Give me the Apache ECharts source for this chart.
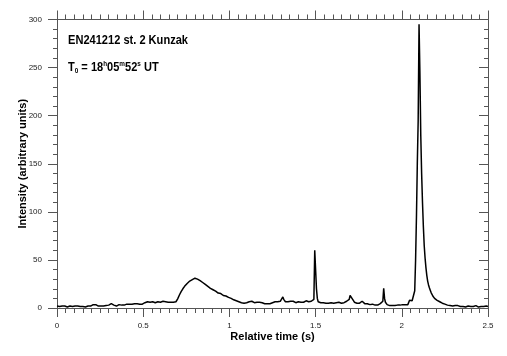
<!DOCTYPE html>
<html>
<head>
<meta charset="utf-8">
<script src="https://cdn.jsdelivr.net/npm/echarts@6/dist/echarts.min.js"></script>
<style>html,body{margin:0;padding:0;background:#fff}#c{width:507px;height:356px}</style>
</head>
<body>
<div id="c"></div>
<script>
// Sampling step of the light curve (s)
const dt = 0.005;
// Intensity (arbitrary units), one value per 0.005 s from 0 to 2.5 s
const intensity = [
 2,1,2,1.5,2.5,1,2,1.5,1,2, 2.5,1.5,1,2,1.5,2,1,2.5,1.5,2,
 1.5,2,1,1.5,2,1,2.5,1.5,2,1, 1.5,2,1.5,1,2,1.5,2,2.5,1.5,2,
 2,2.5,3.5,4,3,3.5,2.5,3,2,2.5, 3,2,2.5,3,2,2.5,3,2.5,3.5,3,
 3,2.5,3.5,4.5,3,4,3,2.5,3,2, 3,2.5,3.5,3,2.5,3,3.5,2.5,3,3.5,
 3,4,3.5,3,4,4.5,5,4,5.5,4, 4.5,5,3.5,4.5,4,3.5,4,3.5,4.5,4,
 5,4.5,5.5,6,5,6.5,5,5.5,6,5, 5.5,6.5,5,6,5.5,6,5,6.5,5.5,6,
 6,5.5,6.5,7,6,5.5,6.5,6,7,6, 5.5,6.5,6,7,6.5,6,7,7.5,6.5,8,
 9.5,11.5,13.5,15,17,18.5,20,21,22.5,23.5, 24.5,25.5,26.5,27,28,28.5,29.5,29.5,30.5,30.5,
 31,30.5,31,30,29.5,29,28.5,28,27,26.5, 25.5,25,24.5,23.5,23,22.5,21.5,21,20.5,20,
 20,19,18.5,18,17.5,16.5,16,15.5,15,14.5, 15,14,13.5,13,12.5,12,12.5,11.5,11,11,
 11,10.5,10,9.5,9,8.5,8,8,7.5,7, 7,6.5,6,6.5,5.5,5,5.5,5,5.5,5,
 5.5,6,5,6.5,6,5.5,7,6,6.5,5.5, 6,7,6,6.5,5.5,6,5,6,5.5,5,
 5,4.5,5,4,4.5,5,4,4.5,5.5,5, 5.5,6,5,6.5,6,7,6.5,7,7.5,7,
 8,9,11.5,9,7.5,6.5,7,6,6.5,5.5, 6,7,6,6.5,7,6,6.5,5.5,6,7,
 6.5,6,7,6,6.5,7,6,7,6.5,7.5, 6,7,6.5,7,8,7,6.5,7,9,60,
 40,20,10,6.5,5,4.5,5.5,5,4.5,5.5, 5,4,5,5.5,4.5,5,6,5,5.5,5,
 5.5,5,6,5,5.5,6.5,5,6,5.5,6, 5,6.5,6,5.5,6.5,6,7,6.5,7.5,9,
 13,15,11,9,7,6,5,4.5,5,5.5, 6,5,6.5,6,7,5.5,5,4.5,5.5,5,
 4.5,5,4,3.5,4.5,3,4,3.5,4,3, 3.5,4,3,4,3.5,4.5,4,5,7,20.5,
 10,6,4,3.5,3,3.5,2.5,3,3.5,2.5, 3,3.5,2.5,3,2.5,3,3.5,2.5,3,3,
 3,3.5,2.5,3,3.5,3,4,3.5,5,8, 7.5,8.5,7.5,8,9,18,50,95,150,195,
 295,245,180,140,110,85,65,52,42,34, 28,24,21,18.5,16,14,12.5,11,10,9,
 8.5,8,7.5,7,6.5,6,5.5,5,4.5,4.5, 4,3.5,3.5,3,3.5,3,2.5,3,2.5,2,
 2.5,2,2.5,1.5,2,2.5,1.5,2,1.5,2, 2.5,1.5,2,1.5,1,2,1.5,2,1.5,2,
 1.5,2,1,1.5,2,1.5,2.5,1.5,2,1, 1.5,2,1.5,2,1,1.5,2,1.5,2,1.5,
 1.5
];
const xTicks = [0, 0.5, 1, 1.5, 2, 2.5];
const yTicks = [0, 50, 100, 150, 200, 250, 300];
const titleText = 'EN241212 st. 2 Kunzak';
const xName = 'Relative time (s)';
const yName = 'Intensity (arbitrary units)';

const points = intensity.map((v, i) => [+(i * dt).toFixed(3), v]);
const FONT = "'Liberation Sans', Arial, Helvetica, sans-serif";
const axisColor = '#555';

function xAx(pos, show, inside) {
  return {
    type: 'value', position: pos, min: xTicks[0], max: xTicks[xTicks.length - 1],
    interval: xTicks[1] - xTicks[0],
    axisLine: { show: true, onZero: false, lineStyle: { color: axisColor, width: 1 } },
    axisTick: { show: true, inside: inside, length: 9, lineStyle: { color: axisColor } },
    minorTick: { show: true, splitNumber: 10, length: 5, lineStyle: { color: axisColor } },
    splitLine: { show: false }, minorSplitLine: { show: false },
    axisLabel: { show: show, margin: 14, fontSize: 8, color: '#222', fontFamily: FONT },
    name: show ? xName : '', nameLocation: 'middle', nameGap: 23, nameMoveOverlap: false,
    nameTextStyle: { fontSize: 11, fontWeight: 'bold', color: '#000', fontFamily: FONT }
  };
}
function yAx(pos, show, inside) {
  return {
    type: 'value', position: pos, min: yTicks[0], max: yTicks[yTicks.length - 1],
    interval: yTicks[1] - yTicks[0],
    axisLine: { show: true, onZero: false, lineStyle: { color: axisColor, width: 1 } },
    axisTick: { show: true, inside: inside, length: 9, lineStyle: { color: axisColor } },
    minorTick: { show: true, splitNumber: 5, length: 4, lineStyle: { color: axisColor } },
    splitLine: { show: false }, minorSplitLine: { show: false },
    axisLabel: { show: show, margin: 15, fontSize: 8, color: '#222', fontFamily: FONT },
    name: show ? yName : '', nameLocation: 'middle', nameGap: 29, nameRotate: 90, nameMoveOverlap: false,
    nameTextStyle: { fontSize: 11, fontWeight: 'bold', color: '#000', fontFamily: FONT }
  };
}

const chart = echarts.init(document.getElementById('c'), null, { renderer: 'canvas' });
chart.setOption({
  animation: false,
  backgroundColor: '#fff',
  grid: { left: 57, right: 19, top: 19.5, bottom: 48 },
  graphic: [
    { type: 'text', x: 68, y: 33, scaleX: 0.82, silent: true,
      style: { text: titleText, fill: '#000', font: "bold 13.5px 'Liberation Sans', Arial, sans-serif" } },
    { type: 'text', x: 68, y: 60, scaleX: 0.85, silent: true,
      style: { text: '{b|T}{sub|0}{b| = 18}{sup|h}{b|05}{sup|m}{b|52}{sup|s}{b| UT}', fill: '#000',
        font: "bold 13px 'Liberation Sans', Arial, sans-serif",
        rich: {
          b: { fontSize: 13, fontWeight: 'bold', fill: '#000', lineHeight: 15, fontFamily: FONT },
          sup: { fontSize: 7.5, fontWeight: 'bold', fill: '#000', lineHeight: 9, verticalAlign: 'top', fontFamily: FONT },
          sub: { fontSize: 7.5, fontWeight: 'bold', fill: '#000', lineHeight: 9, verticalAlign: 'bottom', fontFamily: FONT }
        } } }
  ],
  xAxis: [xAx('bottom', true, false), xAx('top', false, false)],
  yAxis: [yAx('left', true, false), yAx('right', false, true)],
  series: [{
    type: 'line', data: points, xAxisIndex: 0, yAxisIndex: 0,
    showSymbol: false, symbol: 'none',
    lineStyle: { color: '#000', width: 1.5 }
  }]
});
</script>
</body>
</html>
